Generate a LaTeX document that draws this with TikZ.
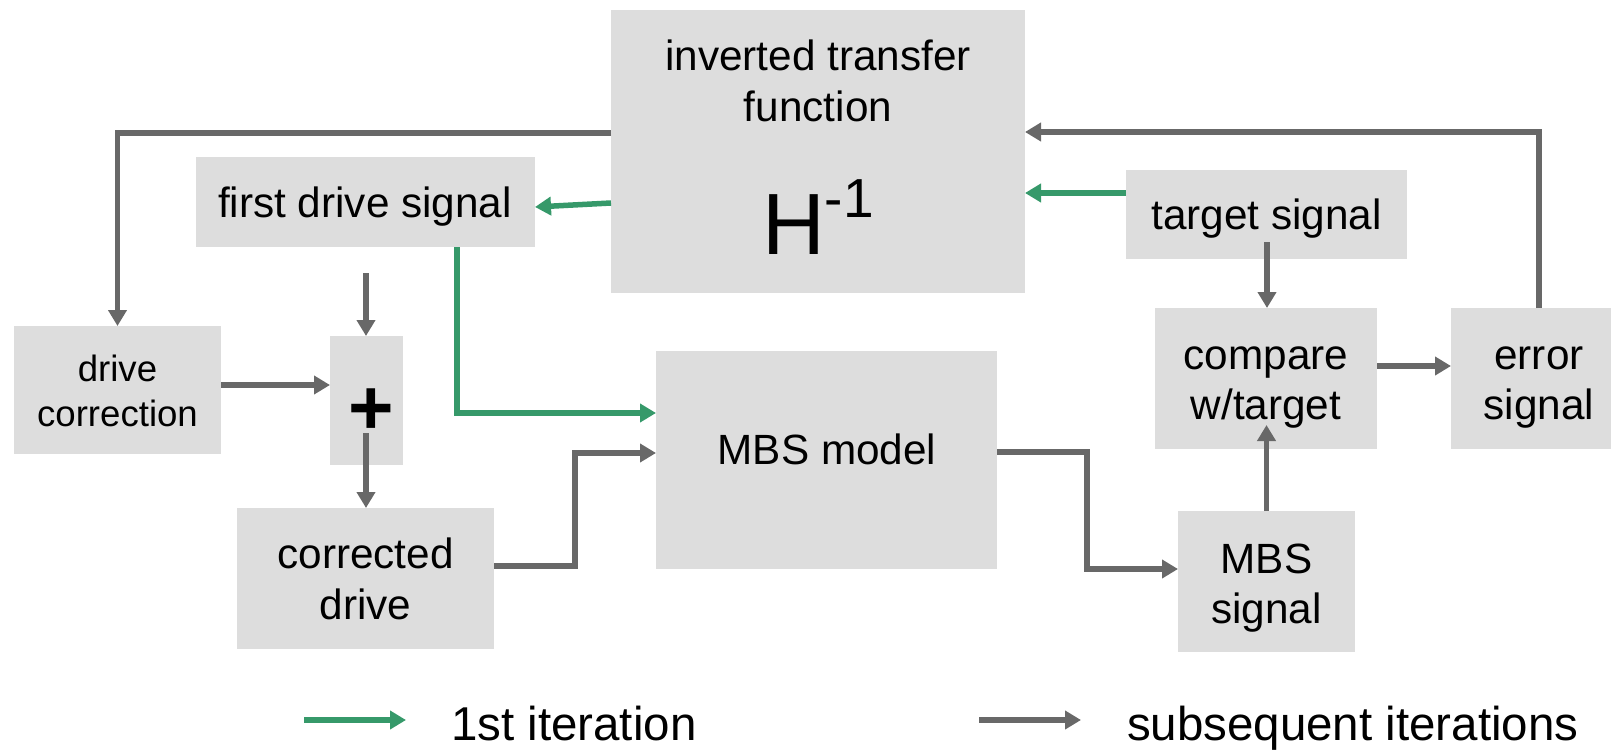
\documentclass[tikz,border=0pt]{standalone}
\usepackage{fontspec}
\setmainfont{Liberation Sans}
\usetikzlibrary{arrows.meta}
\definecolor{boxgray}{HTML}{DDDDDD}
\definecolor{linegray}{HTML}{686868}
\definecolor{itergreen}{HTML}{36996A}
\tikzset{
  blk/.style={fill=boxgray, draw=none, inner sep=0pt, outer sep=0pt},
  txt/.style={anchor=base, inner sep=0pt, outer sep=0pt, font=\fontsize{42.3}{50.8}\selectfont},
  smalltxt/.style={anchor=base, inner sep=0pt, outer sep=0pt, font=\fontsize{36.6}{44}\selectfont},
  legtxt/.style={anchor=base west, inner sep=0pt, outer sep=0pt, font=\fontsize{47.5}{57}\selectfont},
  conn/.style={draw=linegray, line width=5.5pt, -{Triangle[length=16pt,width=18pt]}},
  gconn/.style={draw=itergreen, line width=5.5pt, -{Triangle[length=16pt,width=18pt]}},
}
\begin{document}
\begin{tikzpicture}[x=1pt,y=-1pt]
\useasboundingbox (0,0) rectangle (1611,752);
\clip (0,0) rectangle (1611,752);
% boxes
\node[blk, minimum width=414pt, minimum height=283pt] (ifun) at (818,151.5) {};
\node[blk, minimum width=339pt, minimum height=90pt] (fds) at (365.5,202) {};
\node[blk, minimum width=281pt, minimum height=89pt] (tsig) at (1266.5,214.5) {};
\node[blk, minimum width=207pt, minimum height=128pt] (dcorr) at (117.5,390) {};
\node[blk, minimum width=73pt, minimum height=129pt] (plusbox) at (366.5,400.5) {};
\node[blk, minimum width=257pt, minimum height=141pt] (cdrive) at (365.5,578.5) {};
\node[blk, minimum width=341pt, minimum height=218pt] (mbsm) at (826.5,460) {};
\node[blk, minimum width=222pt, minimum height=141pt] (cmp) at (1266,378.5) {};
\node[blk, minimum width=176pt, minimum height=141pt] (err) at (1539,378.5) {};
\node[blk, minimum width=177pt, minimum height=141pt] (mbss) at (1266.5,581.5) {};
% texts
\node[txt] (ifun-t1) at (818,70.7) {inverted transfer};
\node[txt] (ifun-t2) at (818,121.7) {function};
\node[anchor=base, inner sep=0pt] (hinv) at (818,254) {\fontsize{87}{90}\selectfont H\raisebox{37pt}{\fontsize{55}{60}\selectfont -1}};
\node[txt] (fds-t) at (365,217.5) {first drive signal};
\node[txt] (tsig-t) at (1266.5,229) {target signal};
\node[smalltxt] (dcorr-t1) at (117.5,381.7) {drive};
\node[smalltxt] (dcorr-t2) at (117.5,426) {correction};
\node[anchor=base, inner sep=0pt] (plus) at (371.5,434.5) {\fontsize{78}{90}\selectfont\bfseries +};
\node[txt] (cdrive-t1) at (365.5,568) {corrected};
\node[txt] (cdrive-t2) at (365.5,619) {drive};
\node[txt] (mbsm-t) at (827,464) {MBS model};
\node[txt] (cmp-t1) at (1266,369) {compare};
\node[txt] (cmp-t2) at (1266,419) {w/target};
\node[txt] (err-t1) at (1539,369) {error};
\node[txt] (err-t2) at (1539,419) {signal};
\node[txt] (mbss-t1) at (1266.5,573) {MBS};
\node[txt] (mbss-t2) at (1266.5,623) {signal};
% free-end coordinates
\coordinate (plusin) at (366,273);
\coordinate (tsigout) at (1267,242);
\coordinate (plusout) at (366,433);
% gray connectors
\draw[conn] (ifun.west |- 0,133) -- (dcorr.north |- 0,133) -- (dcorr.north);
\draw[conn] (err.north) -- (err.north |- 0,132) -- (ifun.east |- 0,132);
\draw[conn] (tsigout) -- (cmp.north -| tsigout);
\draw[conn] (cmp.east |- 0,366) -- (err.west |- 0,366);
\draw[conn] (mbss.north) -- (mbss.north |- 0,425);
\draw[conn] (mbsm.east |- 0,452) -- (1087,452) -- (1087,569) -- (mbss.west |- 0,569);
\draw[conn] (cdrive.east |- 0,566) -- (575,566) -- (575,453) -- (mbsm.west |- 0,453);
\draw[conn] (dcorr.east |- 0,385) -- (plusbox.west |- 0,385);
\draw[conn] (plusin) -- (plusbox.north -| plusin);
\draw[conn] (plusout) -- (cdrive.north -| plusout);
% green connectors
\draw[gconn] (tsig.west |- 0,193) -- (ifun.east |- 0,193);
\draw[gconn] (ifun.west |- 0,203) -- (fds.east |- 0,207);
\draw[gconn] (fds.south -| 457,0) -- (457,413) -- (mbsm.west |- 0,413);
% legend
\coordinate (lg1a) at (304,720);
\coordinate (lg1b) at (406,720);
\coordinate (lg2a) at (979,720);
\coordinate (lg2b) at (1081,720);
\draw[gconn] (lg1a) -- (lg1b);
\draw[conn] (lg2a) -- (lg2b);
\node[legtxt] (leg1) at (451,740) {1st iteration};
\node[legtxt] (leg2) at (1127,740) {subsequent iterations};
\end{tikzpicture}
\end{document}
